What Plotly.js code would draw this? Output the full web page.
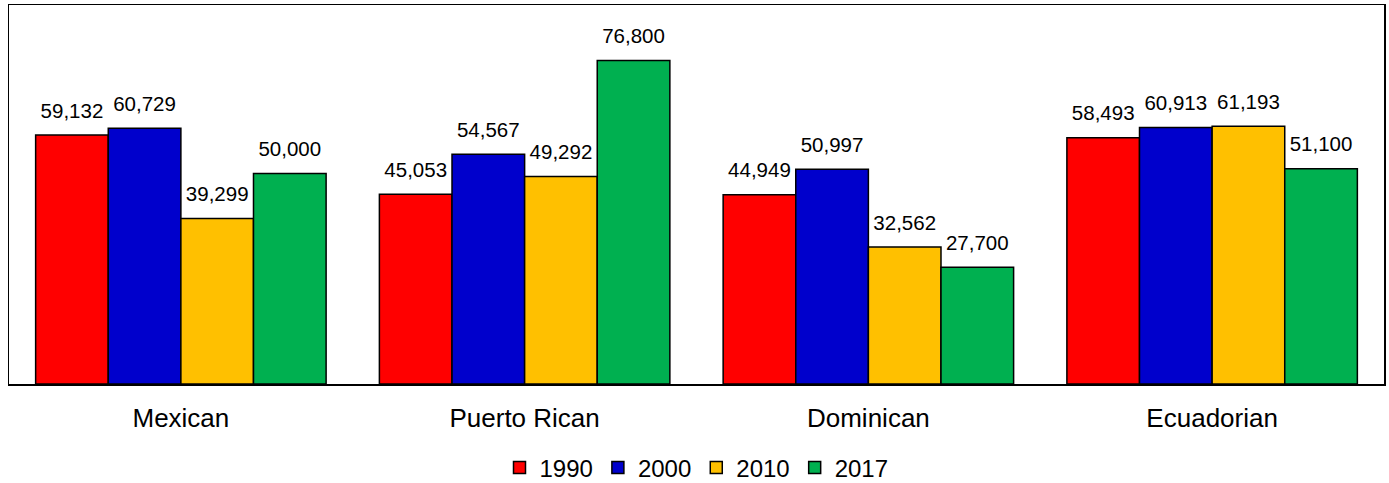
<!DOCTYPE html>
<html>
<head>
<meta charset="utf-8">
<script src="https://cdn.plot.ly/plotly-3.0.1.min.js"></script>
<style>html,body{margin:0;padding:0;background:#fff;}#chart{width:1389px;height:483px;}</style>
</head>
<body>
<div id="chart"></div>
<script>
const categories = ["Mexican", "Puerto Rican", "Dominican", "Ecuadorian"];
const seriesNames = ["1990", "2000", "2010", "2017"];
const values1990 = [59132, 45053, 44949, 58493];
const values2000 = [60729, 54567, 50997, 60913];
const values2010 = [39299, 49292, 32562, 61193];
const values2017 = [50000, 76800, 27700, 51100];
const colors = ["#FF0000", "#0000CC", "#FFC000", "#00B050"];

const FONT = "Liberation Sans, Arial, sans-serif";
const allValues = [values1990, values2000, values2010, values2017];
const bars = allValues.map((vals, i) => ({
  type: "bar",
  name: seriesNames[i],
  x: categories,
  y: vals,
  offsetgroup: String(i),
  marker: {color: colors[i], line: {color: "#000", width: 1.5}},
  hoverinfo: "none"
}));
const labels = allValues.map((vals, i) => ({
  type: "scatter",
  mode: "markers+text",
  showlegend: false,
  x: categories,
  y: vals,
  offsetgroup: String(i),
  marker: {size: 18, opacity: 0},
  text: vals.map(v => v.toLocaleString("en-US")),
  textposition: "top center",
  textfont: {family: FONT, size: 20.5, color: "#000"},
  cliponaxis: false,
  hoverinfo: "none"
}));

const layout = {
  width: 1389, height: 483,
  margin: {l: 9, r: 5, t: 5, b: 99, autoexpand: false},
  paper_bgcolor: "#fff", plot_bgcolor: "#fff",
  barmode: "group",
  bargap: 0.155,
  bargroupgap: 0,
  scattermode: "group",
  scattergap: 0.155,
  font: {family: FONT, color: "#000"},
  xaxis: {
    showline: true, mirror: true, linecolor: "#000", linewidth: 1.5,
    ticks: "", ticklabelstandoff: 10, tickfont: {size: 26, color: "#000"}, showgrid: false
  },
  yaxis: {
    range: [0, 90000], showline: true, mirror: true, linecolor: "#000", linewidth: 1.5,
    showticklabels: false, ticks: "", showgrid: false, zeroline: false
  },
  showlegend: true,
  legend: {
    orientation: "h", x: 0.5, xanchor: "center", y: -0.2216, yanchor: "middle",
    font: {size: 24, color: "#000"}, itemwidth: 30, tracegroupgap: 0
  }
};

Plotly.newPlot("chart", bars.concat(labels), layout, {displayModeBar: false, staticPlot: true});
</script>
</body>
</html>
